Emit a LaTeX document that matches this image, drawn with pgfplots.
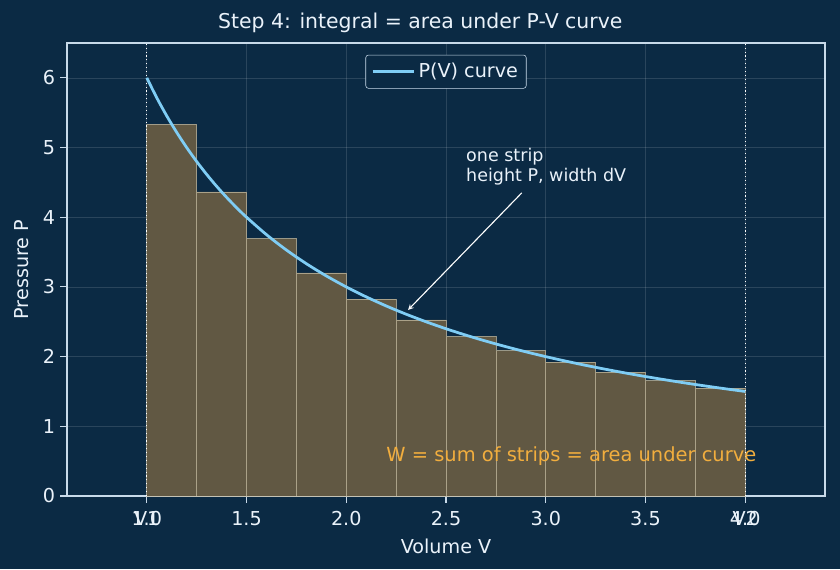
\documentclass[border=0pt]{standalone}
\usepackage{pgfplots}
\pgfplotsset{compat=1.18}
\usepackage{fontspec}
\setmainfont{DejaVu Sans}
\definecolor{bg}{HTML}{0B2A44}
\definecolor{fg}{HTML}{EAF2FA}
\definecolor{axc}{HTML}{C8DAEA}
\definecolor{curve}{HTML}{7FCDF5}
\definecolor{strip}{HTML}{615843}
\definecolor{stripedge}{HTML}{C9C0A6}
\definecolor{note}{HTML}{F2AE3E}
\begin{document}
\begin{tikzpicture}
\fill[bg] (0,0) rectangle (604.8pt,409.68pt);
\begin{axis}[
  at={(48.24pt,52.56pt)}, anchor=south west,
  scale only axis, width=545.76pt, height=326.16pt,
  xmin=0.6, xmax=4.4, ymin=0, ymax=6.5,
  xtick={1,1.5,2,2.5,3,3.5,4},
  xticklabels={1.0,1.5,2.0,2.5,3.0,3.5,4.0},
  ytick={0,1,2,3,4,5,6},
  extra x ticks={1,4},
  extra x tick labels={V1,V2},
  extra x tick style={grid=none, tick style={draw=none}},
  /pgf/number format/assume math mode=true,
  axis line style={axc, line width=0.8pt},
  tick style={axc, line width=0.8pt},
  tick align=outside, tickwidth=5pt,
  xtick pos=bottom, ytick pos=left,
  ticklabel style={fg, font=\fontsize{13.8}{16}\selectfont},
  xticklabel style={yshift=-2.5pt},
  grid=major, major grid style={white, opacity=0.13, line width=0.5pt},
  xlabel={Volume V}, ylabel={Pressure P},
  label style={fg, font=\fontsize{13.8}{16}\selectfont},
  xlabel style={yshift=7.5pt},
  ylabel style={yshift=3pt},
  title={Step 4: integral = area under P-V curve},
  title style={fg, font=\fontsize{14.7}{17}\selectfont, yshift=-2pt, at={(0.466,1)}},
  legend style={at={(0.5,0.974)}, anchor=north, fill=bg, draw=axc, rounded corners=2pt,
    text=fg, font=\fontsize{13.8}{16}\selectfont, inner sep=4pt},
  legend image code/.code={\draw[#1, line width=2pt] (0pt,0pt) -- (30pt,0pt);},
  legend cell align=left,
]
\addplot[ybar interval, fill=strip, draw=stripedge, draw opacity=0.7, line width=0.5pt, forget plot]
coordinates {
(1.00,5.3333) (1.25,4.3636) (1.50,3.6923) (1.75,3.2000) (2.00,2.8235) (2.25,2.5263)
(2.50,2.2857) (2.75,2.0870) (3.00,1.9200) (3.25,1.7778) (3.50,1.6552) (3.75,1.5484) (4.00,1.5484)
};
\addplot[white, dotted, line width=0.8pt, forget plot] coordinates {(1,0) (1,6.5)};
\addplot[white, dotted, line width=0.8pt, forget plot] coordinates {(4,0) (4,6.5)};
\addplot[curve, line width=2pt, smooth] coordinates {
(1.00,6.0000) (1.05,5.7143) (1.10,5.4545) (1.15,5.2174) (1.20,5.0000) (1.25,4.8000)
(1.30,4.6154) (1.35,4.4444) (1.40,4.2857) (1.45,4.1379) (1.50,4.0000) (1.60,3.7500)
(1.70,3.5294) (1.80,3.3333) (1.90,3.1579) (2.00,3.0000) (2.10,2.8571) (2.20,2.7273)
(2.30,2.6087) (2.40,2.5000) (2.50,2.4000) (2.60,2.3077) (2.70,2.2222) (2.80,2.1429)
(2.90,2.0690) (3.00,2.0000) (3.10,1.9355) (3.20,1.8750) (3.30,1.8182) (3.40,1.7647)
(3.50,1.7143) (3.60,1.6667) (3.70,1.6216) (3.80,1.5789) (3.90,1.5385) (4.00,1.5000)
};
\addlegendentry{P(V) curve}
\node[anchor=south west, fg, font=\fontsize{12.6}{15}\selectfont, align=left, inner sep=0pt] at (axis cs:2.6,4.45) {one strip\\height P, width dV};
\draw[-stealth, white, line width=0.8pt] (axis cs:2.88,4.35) -- (axis cs:2.31,2.67);
\node[anchor=base west, note, font=\fontsize{14}{16}\selectfont, inner sep=0pt] at (axis cs:2.2,0.5) {W = sum of strips = area under curve};
\end{axis}
\end{tikzpicture}
\end{document}
